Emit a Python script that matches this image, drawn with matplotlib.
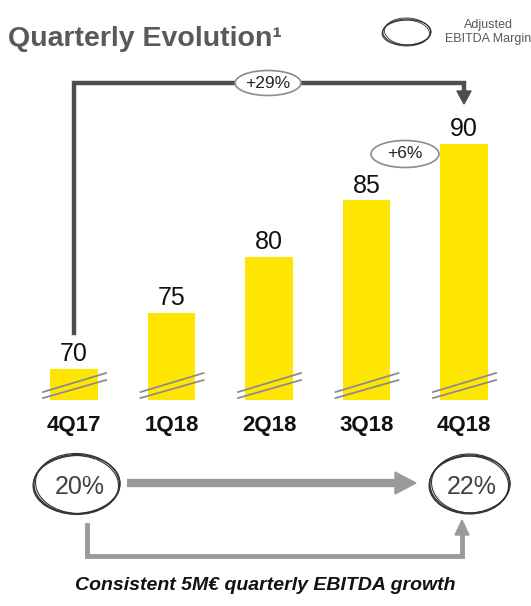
import matplotlib.pyplot as plt
from matplotlib.patches import Ellipse, Polygon

plt.rcParams['font.family'] = ['Liberation Sans', 'DejaVu Sans']

quarters = ['4Q17', '1Q18', '2Q18', '3Q18', '4Q18']
ebitda = [70, 75, 80, 85, 90]
margin_start = '20%'
margin_end = '22%'
growth_total = '+29%'
growth_last = '+6%'

W, H = 531, 606
YELLOW = '#FFE600'
DARK = '#4d4d4d'
LIGHT = '#9a9a9a'

# broken value axis: bars start at this level
base = 67.24
px_unit = 11.25
y_top = 90 + 144 / px_unit
y_bot = y_top - H / px_unit
step = 97.5
x_left = -74 / step
x_right = x_left + W / step


def px(i):
    return (i - x_left) * step


def py(v):
    return (y_top - v) * px_unit


fig = plt.figure(figsize=(W / 100, H / 100), dpi=100)

ax = fig.add_axes([0, 0, 1, 1])
ax.set_xlim(x_left, x_right)
ax.set_ylim(y_bot, y_top)
ax.axis('off')
ax.bar(range(len(ebitda)), [v - base for v in ebitda], bottom=base,
       width=0.49, color=YELLOW)
for i, v in enumerate(ebitda):
    ax.annotate(str(v), (i, v), xytext=(0, 5.5), textcoords='offset points',
                ha='center', va='baseline', fontsize=18, color='#111111')

# overlay in pixel units for the annotations
ov = fig.add_axes([0, 0, 1, 1])
ov.set_xlim(0, W)
ov.set_ylim(H, 0)
ov.axis('off')

bottom_px = py(base)
for i, q in enumerate(quarters):
    cx = px(i)
    # break marks across the bar foot
    ov.plot([cx - 31, cx + 32], [bottom_px - 8, bottom_px - 27], color='#8c8c8c', lw=1.3)
    ov.plot([cx - 31, cx + 32], [bottom_px - 2, bottom_px - 20], color='#8c8c8c', lw=1.3)
    ov.text(cx, bottom_px + 25, q, ha='center', va='center', fontsize=16,
            fontweight='bold', color='#111111')

# title and legend
ov.text(8, 39, 'Quarterly Evolution\u00b9', ha='left', va='center', fontsize=20.5,
        fontweight='bold', color='#595959')


def scribble(x, y, w, h, lw=1.0, color='#333333'):
    for dx, dy, dw, dh, a in [(0, 0, 0, 0, 0), (0.5, -0.5, -2, 1, 3),
                              (-0.5, 0.5, 1, -1, -3), (-1, 1, -1, 0, 1.5)]:
        ov.add_patch(Ellipse((x + dx, y + dy), w + dw, h + dh, angle=a,
                             fill=False, ec=color, lw=lw, zorder=3))


scribble(407, 32, 48, 26, lw=0.6)
ov.text(488, 32, 'Adjusted\nEBITDA Margin', ha='center', va='center', fontsize=9,
        color='#595959', linespacing=1.15)

# +29% bracket from first to last quarter
x0, x1 = px(0), px(4)
yb = 83
ov.plot([x0, x0, x1, x1], [py(ebitda[0]) - 36, yb, yb, 92], color=DARK, lw=3.2,
        solid_joinstyle='miter', zorder=2)
ov.add_patch(Polygon([[x1 - 7, 91], [x1 + 7, 91], [x1, 104]], color=DARK, zorder=2))
ov.add_patch(Ellipse((268, yb), 66, 25, fc='white', ec='#8c8c8c', lw=1.2, zorder=3))
ov.text(268, yb, growth_total, ha='center', va='center', fontsize=12.5,
        color='#222222', zorder=4)

# +6% between the last two quarters
ov.add_patch(Ellipse((405, 154), 68, 27, fc='white', ec='#8c8c8c', lw=1.2, zorder=3))
ov.text(405, 154, growth_last, ha='center', va='center', fontsize=12.5,
        color='#222222', zorder=4)

# margin comparison
scribble(77, 484, 86, 59, lw=0.8)
scribble(470, 484, 80, 58, lw=0.8)
ov.text(80, 487, margin_start, ha='center', va='center', fontsize=18, color='#404040')
ov.text(472, 487, margin_end, ha='center', va='center', fontsize=18, color='#404040')

ov.plot([127, 396], [483, 483], color=LIGHT, lw=6, solid_capstyle='butt')
ov.add_patch(Polygon([[395, 472], [395, 494], [416, 483]], color=LIGHT))

ov.plot([87, 87, 462, 462], [525, 556, 556, 534], color=LIGHT, lw=3.5,
        solid_joinstyle='miter')
ov.add_patch(Polygon([[455, 535], [469, 535], [462, 520]], color=LIGHT))

ov.text(265, 586, 'Consistent 5M\u20ac quarterly EBITDA growth', ha='center',
        va='center', fontsize=14, fontweight='bold', fontstyle='italic', color='#111111')

fig.savefig('out.png', dpi=100)
